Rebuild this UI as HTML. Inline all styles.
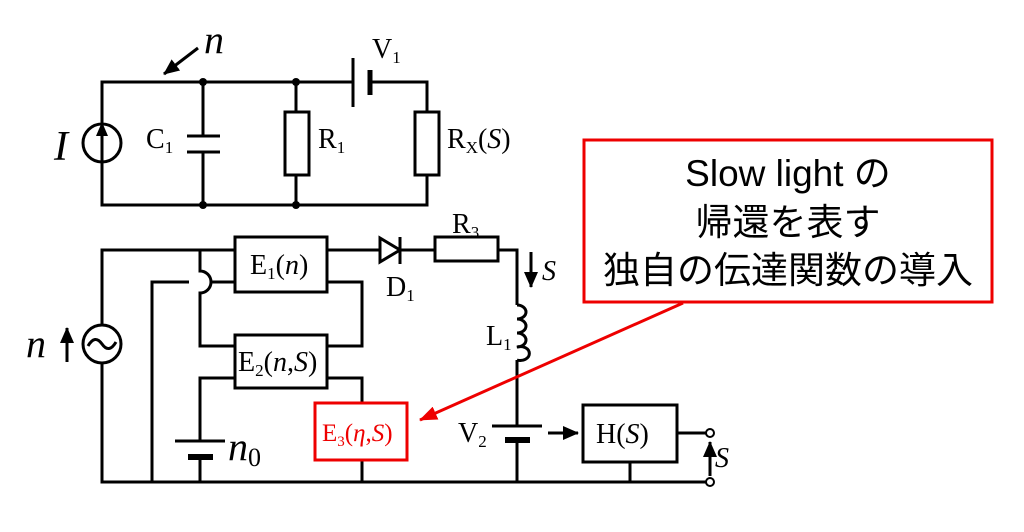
<!DOCTYPE html>
<html><head><meta charset="utf-8"><style>
html,body{margin:0;padding:0;background:#fff;}
svg{display:block;}
.t{font-family:"Liberation Serif",serif;fill:#000;}
</style></head><body>
<svg width="1024" height="532" viewBox="0 0 1024 532" xmlns="http://www.w3.org/2000/svg">
<defs>
<marker id="ahb" markerWidth="16" markerHeight="14" refX="15" refY="7" orient="auto" markerUnits="userSpaceOnUse"><path d="M0,0 L16,7 L0,14 z" fill="#000"/></marker>
<marker id="ahr" markerWidth="18" markerHeight="14" refX="17" refY="7" orient="auto" markerUnits="userSpaceOnUse"><path d="M0,0 L18,7 L0,14 z" fill="#e00"/></marker>
</defs>
<g stroke="#000" stroke-width="3" fill="none">
<path d="M102,124 V82 H353 M370,82 H427 V112 M427,175 V205 H102 V162"/>
<circle cx="102" cy="143" r="19"/>
<path d="M102,162 V132"/>
<path d="M203,82 V136 M203,152 V205"/>
<path d="M187,136 H220 M187,152 H220"/>
<path d="M296,82 V112 M296,175 V205"/>
<rect x="285" y="112" width="24" height="63"/>
<rect x="415" y="112" width="24" height="63"/>
<path d="M353,58 V107"/>
<path d="M370,70 V95" stroke-width="5"/>
<path d="M102,325 V250 H235 M102,363 V482 H710"/>
<circle cx="102" cy="344" r="19"/>
<path d="M88,346 q7,-12 14,-2 t14,-2"/>
<path d="M152,482 V282 H189 M211,282 H235"/>
<path d="M200,250 V271 A11,11 0 0 1 200,293 V346 H235"/>
<rect x="235" y="237" width="92" height="55"/>
<rect x="235" y="335" width="92" height="53"/>
<path d="M327,282 H362 V346 H327"/>
<path d="M235,378 H200 V441 M200,457 V482"/>
<path d="M175,441 H225"/>
<path d="M188,457 H213" stroke-width="6"/>
<path d="M327,378 H362 V403 M362,460 V482"/>
<path d="M327,250 H380 M400,250 H435 M498,250 H517 V305 M517,360 V426 M517,440 V482"/>
<path d="M380,238 L400,250 L380,262 Z"/>
<path d="M400,237 V264"/>
<rect x="435" y="237" width="63" height="24"/>
<path d="M517,305 a9,7 0 1 1 0,14 a9,7 0 1 1 0,14 a9,7 0 1 1 0,14 a9,7 0 1 1 0,13"/>
<path d="M492,426 H542"/>
<path d="M505,440 H530" stroke-width="6"/>
<rect x="583" y="405" width="94" height="57"/>
<path d="M677,433 H706 M630,462 V482"/>
</g>
<circle cx="710" cy="433" r="4" fill="#fff" stroke="#000" stroke-width="2"/>
<circle cx="710" cy="482" r="4" fill="#fff" stroke="#000" stroke-width="2"/>
<g fill="#000">
<circle cx="203" cy="82" r="4"/><circle cx="296" cy="82" r="4"/>
<circle cx="203" cy="205" r="4"/><circle cx="296" cy="205" r="4"/>
<path d="M102,122 L96,136 L108,136 Z"/>
</g>
<g stroke="#000" stroke-width="3">
<line x1="198" y1="48" x2="164" y2="74" marker-end="url(#ahb)"/>
<line x1="67" y1="362" x2="67" y2="328" marker-end="url(#ahb)"/>
<line x1="531" y1="252" x2="531" y2="287" marker-end="url(#ahb)"/>
<line x1="548" y1="433" x2="578" y2="433" marker-end="url(#ahb)"/>
<line x1="710" y1="476" x2="710" y2="442" marker-end="url(#ahb)"/>
</g>
<rect x="315" y="403" width="92" height="57" fill="#fff" stroke="#e00" stroke-width="3"/>
<rect x="584" y="140" width="408" height="162" fill="#fff" stroke="#e00" stroke-width="3"/>
<line x1="683" y1="303" x2="420" y2="420" stroke="#e00" stroke-width="3" marker-end="url(#ahr)"/>
<g font-family="'Liberation Sans','Noto Sans CJK JP',sans-serif" font-size="37" fill="#000" text-anchor="middle">
<text x="788" y="186">Slow light の</text>
<text x="788" y="235">帰還を表す</text>
<text x="788" y="283">独自の伝達関数の導入</text>
</g>
<g class="t" font-size="28">
<text x="204" y="53" font-style="italic" font-size="40">n</text>
<text x="54" y="160" font-style="italic" font-size="42">I</text>
<text x="372" y="58">V<tspan font-size="17" dy="5">1</tspan></text>
<text x="146" y="148">C<tspan font-size="17" dy="5">1</tspan></text>
<text x="318" y="148">R<tspan font-size="17" dy="5">1</tspan></text>
<text x="447" y="148">R<tspan font-size="17" dy="5">X</tspan><tspan dy="-5">(</tspan><tspan font-style="italic">S</tspan>)</text>
<text x="250" y="274">E<tspan font-size="17" dy="5">1</tspan><tspan dy="-5">(</tspan><tspan font-style="italic">n</tspan>)</text>
<text x="238" y="371">E<tspan font-size="17" dy="5">2</tspan><tspan dy="-5">(</tspan><tspan font-style="italic">n</tspan>,<tspan font-style="italic">S</tspan>)</text>
<text x="322" y="441" font-size="25" style="fill:#e00">E<tspan font-size="15" dy="5">3</tspan><tspan dy="-5">(</tspan><tspan font-style="italic">η</tspan>,<tspan font-style="italic">S</tspan>)</text>
<text x="386" y="296">D<tspan font-size="17" dy="5">1</tspan></text>
<text x="452" y="233">R<tspan font-size="17" dy="5">3</tspan></text>
<text x="486" y="345">L<tspan font-size="17" dy="5">1</tspan></text>
<text x="458" y="442">V<tspan font-size="17" dy="5">2</tspan></text>
<text x="596" y="443">H(<tspan font-style="italic">S</tspan>)</text>
<text x="542" y="280" font-style="italic">S</text>
<text x="715" y="467" font-style="italic">S</text>
<text x="26" y="357" font-style="italic" font-size="40">n</text>
<text x="228" y="460" font-style="italic" font-size="40">n<tspan font-style="normal" font-size="26" dy="6">0</tspan></text>
</g>
</svg>
</body></html>
